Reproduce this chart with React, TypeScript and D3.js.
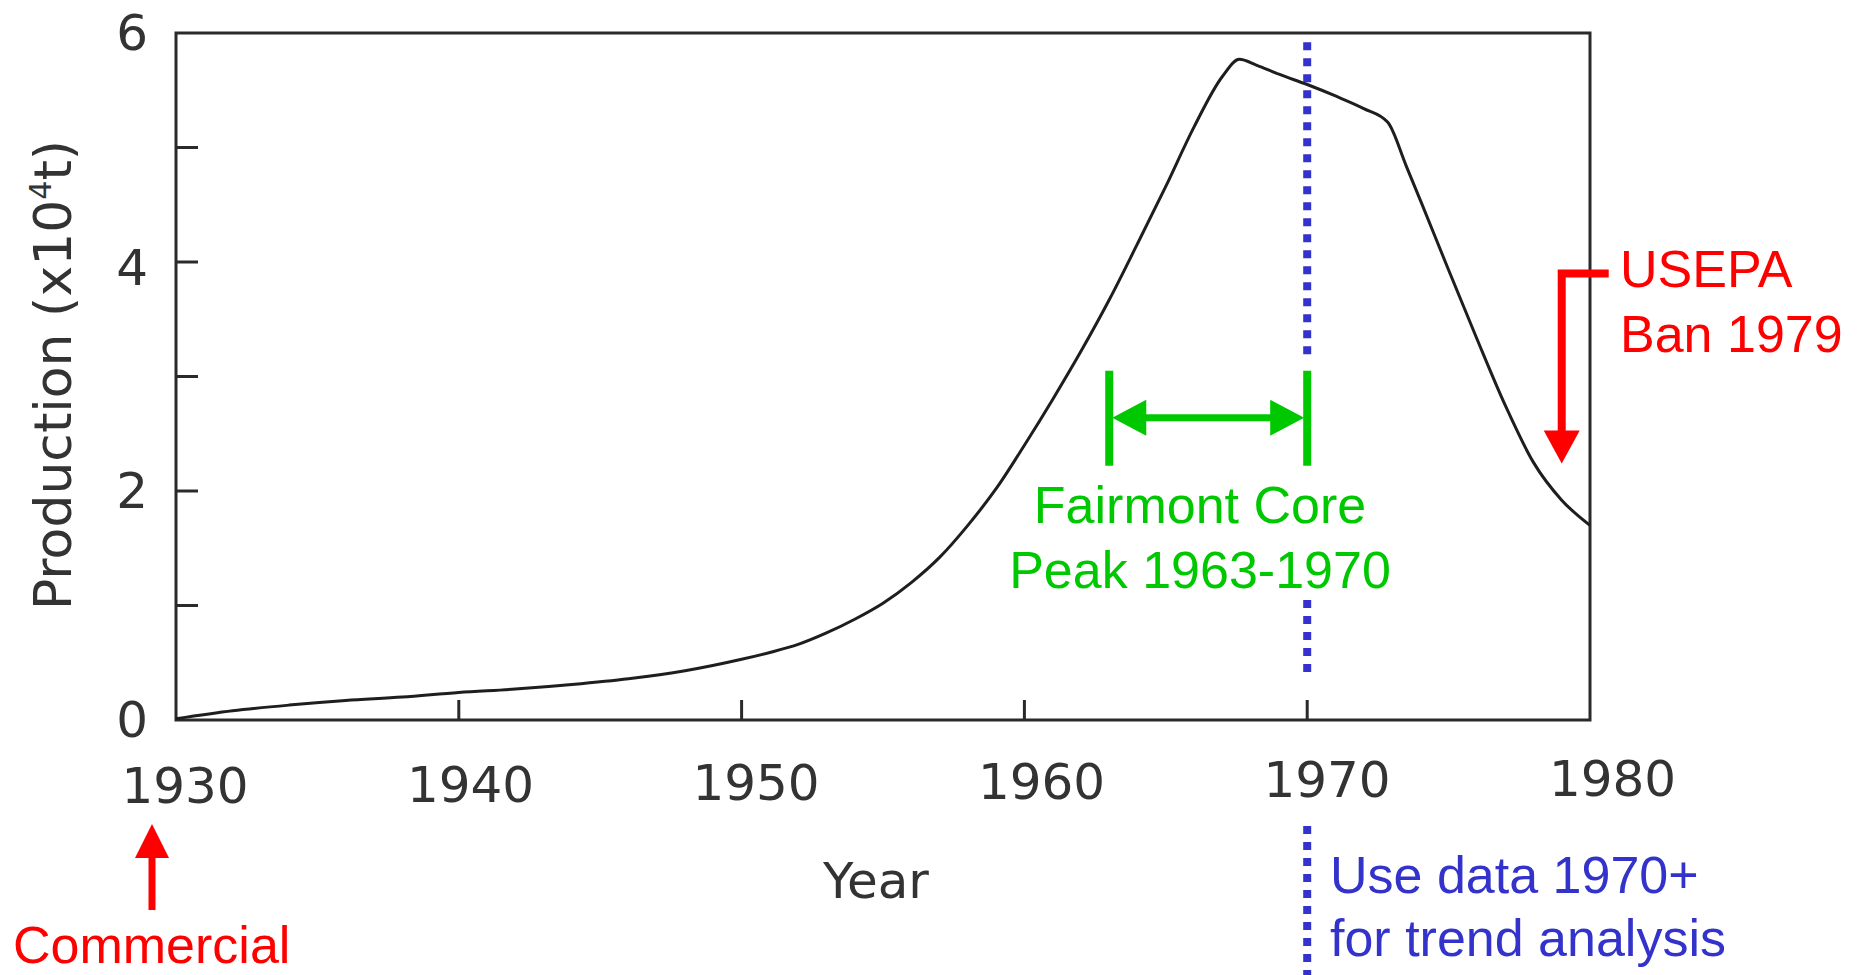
import React from 'react';
import * as d3 from 'd3';

// Production curve (x10^4 t)
const years = [1930, 1932, 1934, 1936, 1938, 1940, 1942, 1944, 1946, 1948, 1950, 1951, 1952, 1953, 1954, 1955, 1956, 1957, 1958, 1959, 1960, 1961, 1962, 1963, 1964, 1965, 1966, 1967, 1967.6, 1968.2, 1969, 1970, 1971, 1972, 1972.85, 1973.5, 1974, 1975, 1976, 1977, 1978, 1979, 1980];
const production = [0.01, 0.08, 0.13, 0.17, 0.2, 0.24, 0.27, 0.31, 0.36, 0.43, 0.53, 0.59, 0.66, 0.76, 0.88, 1.02, 1.2, 1.42, 1.7, 2.02, 2.4, 2.8, 3.22, 3.67, 4.16, 4.66, 5.18, 5.62, 5.77, 5.72, 5.64, 5.55, 5.45, 5.34, 5.22, 4.84, 4.54, 3.93, 3.33, 2.75, 2.25, 1.92, 1.7];

const xTicks = [1930, 1940, 1950, 1960, 1970, 1980];
const yTicks = [0, 1, 2, 3, 4, 5, 6];
const yTickLabels = [0, 2, 4, 6];

const coreStart = 1963;
const coreEnd = 1970;
const banYear = 1979;
const commercialYear = 1930;

const GREEN = '#00c800';
const RED = '#ff0000';
const BLUE = '#3333cc';
const INK = '#2a2a2a';

export default function App() {
  const W = 1866;
  const H = 975;
  const x = d3.scaleLinear().domain([1930, 1980]).range([176, 1590]);
  const y = d3.scaleLinear().domain([0, 6]).range([720, 33]);

  const pts: [number, number][] = years.map((yr, i) => [yr, production[i]]);
  const line = d3
    .line<[number, number]>()
    .x((d) => x(d[0]))
    .y((d) => y(d[1]))
    .curve(d3.curveMonotoneX);

  const [x0, x1] = x.range();
  const [yb, yt] = y.range();

  const annFont = "'Liberation Sans', Arial, sans-serif";
  const axFont = "'DejaVu Sans', sans-serif";

  // green core bracket
  const gL = x(coreStart);
  const gR = x(coreEnd);
  const gTop = y(3.05);
  const gBot = y(2.22);
  const gMid = y(2.64);

  // blue 1970 dotted line
  const bx = x(coreEnd);
  const blueSegs: [number, number][] = [
    [y(5.92), y(3.18)],
    [600, 672],
    [826, 975],
  ];

  // red ban arrow
  const rx = x(banYear);
  const rTop = y(3.9);
  const rTip = y(2.24);

  // red commercial arrow
  const cx = x(commercialYear) - 24;

  return (
    <svg
      width={W}
      height={H}
      style={{ position: 'absolute', left: 0, top: 0, display: 'block', background: '#fff' }}
    >
      {/* frame */}
      <rect x={x0} y={yt} width={x1 - x0} height={yb - yt} fill="none" stroke={INK} strokeWidth={3} />

      {/* y ticks */}
      {yTicks.filter((t) => t > 0 && t < 6).map((t) => (
        <line key={'yt' + t} x1={x0} x2={x0 + 22} y1={y(t)} y2={y(t)} stroke={INK} strokeWidth={3} />
      ))}
      {yTickLabels.map((t) => (
        <text
          key={'yl' + t}
          x={x0 - 28}
          y={y(t) + (t === 4 ? 6 : 0)}
          textAnchor="end"
          dominantBaseline="central"
          fontFamily={axFont}
          fontSize={50}
          fill="#333"
        >
          {t}
        </text>
      ))}

      {/* x ticks */}
      {xTicks.filter((t) => t > 1930 && t < 1980).map((t) => (
        <line key={'xt' + t} x1={x(t)} x2={x(t)} y1={yb} y2={yb - 20} stroke={INK} strokeWidth={3} />
      ))}
      {xTicks.map((t) => (
        <text
          key={'xl' + t}
          x={x(t) + 9 + 0.27 * (t - 1930)}
          y={803 - 0.15 * (t - 1930)}
          textAnchor="middle"
          fontFamily={axFont}
          fontSize={50}
          fill="#333"
        >
          {t}
        </text>
      ))}

      {/* axis titles */}
      <text x={876} y={898} textAnchor="middle" fontFamily={axFont} fontSize={50} fill="#333">
        Year
      </text>
      <text
        transform="translate(71,375) rotate(-90)"
        textAnchor="middle"
        fontFamily={axFont}
        fontSize={52}
        fill="#333"
      >
        Production (x10<tspan dy={-20} fontSize={30}>4</tspan>
        <tspan dy={20}>t)</tspan>
      </text>

      {/* data curve */}
      <path d={line(pts) || ''} fill="none" stroke="#1e1e1e" strokeWidth={3} strokeLinejoin="round" />

      {/* blue dotted 1970 line */}
      {blueSegs.map(([a, b], i) => (
        <line key={'b' + i} x1={bx} x2={bx} y1={a} y2={b} stroke={BLUE} strokeWidth={8} strokeDasharray="8,8" />
      ))}
      <text x={1330} y={893} fontFamily={annFont} fontSize={52} fill={BLUE}>
        Use data 1970+
      </text>
      <text x={1330} y={956} fontFamily={annFont} fontSize={52} fill={BLUE}>
        for trend analysis
      </text>

      {/* green core bracket */}
      <line x1={gL} x2={gL} y1={gTop} y2={gBot} stroke={GREEN} strokeWidth={8} />
      <line x1={gR} x2={gR} y1={gTop} y2={gBot} stroke={GREEN} strokeWidth={8} />
      <line x1={gL + 30} x2={gR - 30} y1={gMid} y2={gMid} stroke={GREEN} strokeWidth={7} />
      <path d={`M${gL + 3},${gMid} L${gL + 37},${gMid - 18} L${gL + 37},${gMid + 18} Z`} fill={GREEN} />
      <path d={`M${gR - 3},${gMid} L${gR - 37},${gMid - 18} L${gR - 37},${gMid + 18} Z`} fill={GREEN} />
      <text x={1200} y={523} textAnchor="middle" fontFamily={annFont} fontSize={52} fill={GREEN}>
        Fairmont Core
      </text>
      <text x={1200} y={588} textAnchor="middle" fontFamily={annFont} fontSize={52} fill={GREEN}>
        Peak 1963-1970
      </text>

      {/* red ban arrow */}
      <path d={`M${rx + 47},${rTop} H${rx} V${rTip - 30}`} fill="none" stroke={RED} strokeWidth={8} />
      <path d={`M${rx},${rTip} L${rx - 18},${rTip - 33} L${rx + 18},${rTip - 33} Z`} fill={RED} />
      <text x={1620} y={287} fontFamily={annFont} fontSize={52} fill={RED}>
        USEPA
      </text>
      <text x={1620} y={352} fontFamily={annFont} fontSize={52} fill={RED}>
        Ban 1979
      </text>

      {/* red commercial arrow */}
      <line x1={cx} x2={cx} y1={910} y2={850} stroke={RED} strokeWidth={7} />
      <path d={`M${cx},${824} L${cx - 17},${858} L${cx + 17},${858} Z`} fill={RED} />
      <text x={13} y={963} fontFamily={annFont} fontSize={52} fill={RED}>
        Commercial
      </text>
    </svg>
  );
}
